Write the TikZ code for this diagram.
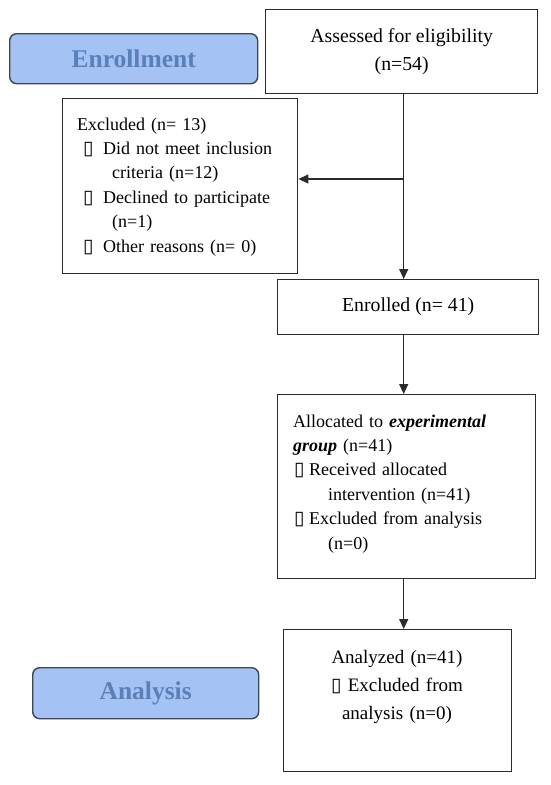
\documentclass[tikz,border=0pt]{standalone}
\usepackage{fontspec}
\usepackage{graphicx}
\setmainfont{Liberation Serif}
\newfontfamily\symf{DejaVu Sans}
\usetikzlibrary{arrows.meta}
\definecolor{phasefill}{HTML}{A4C2F4}
\definecolor{phasetext}{HTML}{5A80BA}
\definecolor{phaseedge}{HTML}{3C4656}
\definecolor{boxedge}{HTML}{2B2B2B}
\newcommand\bul{{\symf\fontsize{19}{19}\selectfont ▯}}
\tikzset{
  flowbox/.style={draw=boxedge, line width=1.4pt, fill=white, inner sep=0pt, anchor=north west},
  phasebox/.style={draw=phaseedge, line width=1.4pt, fill=phasefill, rounded corners=7pt,
    anchor=north west, inner sep=0pt, text=phasetext,
    font=\fontsize{25.5}{28}\selectfont\bfseries},
  bodytext/.style={inner sep=0pt, font=\fontsize{18}{24.4}\selectfont},
  arr/.style={draw=boxedge, line width=1.3pt, -{Triangle[length=10pt,width=9pt]}}
}
\begin{document}
\begin{tikzpicture}[x=1pt,y=-1pt]
\useasboundingbox (0,0) rectangle (550,785);
% phase labels
\node[phasebox, minimum width=248, minimum height=50] (enrollment) at (9,33) {Enrollment};
\node[phasebox, minimum width=226, minimum height=51] (analysis) at (32,667) {Analysis};
% boxes
\node[flowbox, minimum width=272, minimum height=84, align=center,
  font=\fontsize{19.8}{28}\selectfont] (assess) at (265,9) {Assessed for eligibility\\(n=54)};
\node[flowbox, minimum width=235, minimum height=175] (excl) at (62,98) {};
\node[flowbox, minimum width=261, minimum height=55, font=\fontsize{19.8}{24}\selectfont] (enrol) at (277,279) {Enrolled (n= 41)};
\node[flowbox, minimum width=258, minimum height=184] (alloc) at (277,394) {};
\node[flowbox, minimum width=228, minimum height=142] (analyzed) at (283,629) {};
% box texts
\node[bodytext, anchor=base west, text width=218, align=left] (excltext) at (77,130) {%
Excluded (n= 13)\\
\hspace*{6pt}\makebox[20pt][l]{\bul}Did not meet inclusion\\
\hspace*{35pt}criteria (n=12)\\
\hspace*{6pt}\makebox[20pt][l]{\bul}Declined to participate\\
\hspace*{35pt}(n=1)\\
\hspace*{6pt}\makebox[20pt][l]{\bul}Other reasons (n= 0)};
\node[bodytext, anchor=base west, text width=238, align=left] (alloctext) at (293,427) {%
Allocated to \textbf{\textit{experimental}}\\
\textbf{\textit{group}} (n=41)\\
\hspace*{1pt}\makebox[15pt][l]{\bul}Received allocated\\
\hspace*{35pt}intervention (n=41)\\
\hspace*{1pt}\makebox[15pt][l]{\bul}Excluded from analysis\\
\hspace*{35pt}(n=0)};
\node[bodytext, anchor=base, text width=220, align=center,
  font=\fontsize{19}{28}\selectfont] (analyzedtext) at (397,663) {%
Analyzed (n=41)\\
\bul\ Excluded from\\
analysis (n=0)};
% connectors
\coordinate (trunk) at ([xshift=2pt]assess.south);
\coordinate (branch) at (trunk |- 0,179);
\draw[arr] (trunk) -- (trunk |- enrol.north);
\draw[arr] (branch) -- (branch -| excl.east);
\draw[arr] (trunk |- enrol.south) -- (trunk |- alloc.north);
\draw[arr] (trunk |- alloc.south) -- (trunk |- analyzed.north);
\end{tikzpicture}
\end{document}
